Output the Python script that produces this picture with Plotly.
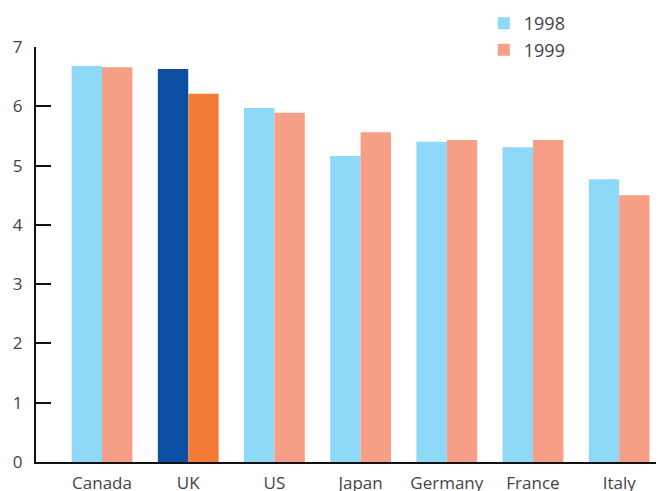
import plotly.graph_objects as go

categories = ["Canada", "UK", "US", "Japan", "Germany", "France", "Italy"]
values_1998 = [6.68, 6.63, 5.97, 5.16, 5.40, 5.31, 4.77]
values_1999 = [6.66, 6.21, 5.89, 5.56, 5.43, 5.43, 4.50]
y_ticks = [0, 1, 2, 3, 4, 5, 6, 7]

c98, c99 = "#8ED8F8", "#F69E86"
h98, h99 = "#0B4EA2", "#F47B35"
colors_98 = [h98 if c == "UK" else c98 for c in categories]
colors_99 = [h99 if c == "UK" else c99 for c in categories]

font = dict(family="Open Sans, Liberation Sans, sans-serif", size=17, color="#444444")

fig = go.Figure()
fig.add_trace(go.Bar(x=categories, y=values_1998, name="1998",
                     marker=dict(color=colors_98, line=dict(width=0))))
fig.add_trace(go.Bar(x=categories, y=values_1999, name="1999",
                     marker=dict(color=colors_99, line=dict(width=0))))

# page body has an 8px margin; compensate so the plot area sits where the reference has it
fig.update_layout(
    width=656, height=483,
    margin=dict(l=28, r=0, t=39, b=29, autoexpand=False),
    paper_bgcolor="white", plot_bgcolor="white",
    barmode="group", bargap=0.295, bargroupgap=0,
    font=font,
    showlegend=True,
    legend=dict(x=0.713, y=1.101, xanchor="left", yanchor="top",
                bgcolor="rgba(0,0,0,0)", font=dict(font, size=18),
                itemwidth=30, tracegroupgap=0),
    xaxis=dict(type="category", range=[-0.766, 6.52], automargin=False,
               showline=True, linecolor="#111111", linewidth=2,
               ticks="", showgrid=False, zeroline=False,
               tickfont=font, fixedrange=True, ticklabelstandoff=5),
    yaxis=dict(range=[0, 7], tickvals=y_ticks, automargin=False,
               showline=True, linecolor="#111111", linewidth=2,
               ticks="inside", ticklen=15, tickwidth=2, tickcolor="#111111",
               showgrid=False, zeroline=False, tickfont=font,
               ticklabelstandoff=8, fixedrange=True),
)

fig.write_html("out.html")
